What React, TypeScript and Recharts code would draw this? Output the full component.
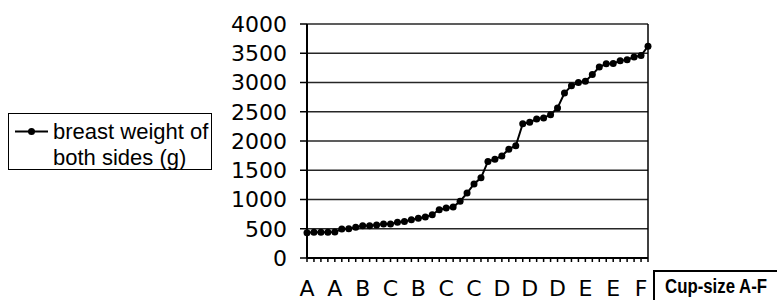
import React from "react";
import {
  LineChart, Line, XAxis, YAxis, CartesianGrid, Legend, ReferenceLine
} from "recharts";

// breast weight of both sides (g), sorted, one value per subject
const weights = [
  430, 440, 440, 440, 445, 495, 500, 525, 550, 550,
  565, 580, 580, 610, 625, 655, 680, 700, 740, 825,
  855, 870, 970, 1110, 1265, 1370, 1650, 1690, 1745, 1860,
  1920, 2295, 2320, 2375, 2395, 2450, 2565, 2820, 2945, 3000,
  3020, 3135, 3265, 3320, 3325, 3370, 3390, 3435, 3460, 3620
];

// cup size shown under every 4th subject
const cupLabels = ["A", "A", "B", "C", "B", "C", "C", "D", "D", "D", "E", "E", "F"];
const labelStep = 4;

const yTicks = [0, 500, 1000, 1500, 2000, 2500, 3000, 3500, 4000];

const data = weights.map((w, i) => ({ idx: i, weight: w }));

const axisFont = "'DejaVu Sans', Verdana, sans-serif";

const CupTick = (props: any) => {
  const { x, y, payload } = props;
  const i = payload.value as number;
  if (i % labelStep !== 0) return <g />;
  return (
    <text x={x} y={y} dy="0.71em" textAnchor="middle" fill="#000"
      fontSize={22} fontFamily={axisFont}>
      {cupLabels[i / labelStep]}
    </text>
  );
};

const LegendBox = () => (
  <div style={{
    width: 204, height: 57, border: "1.5px solid #000", boxSizing: "border-box",
    position: "relative", background: "#fff",
    fontFamily: "'Liberation Sans', Arial, sans-serif", fontSize: 22, color: "#000"
  }}>
    <svg width={40} height={30} style={{ position: "absolute", left: 0, top: 3 }}>
      <line x1={6} y1={14.5} x2={39} y2={14.5} stroke="#000" strokeWidth={2} />
      <circle cx={22.5} cy={14.5} r={3.5} fill="#000" />
    </svg>
    <div style={{ position: "absolute", left: 44, top: 5, lineHeight: "26px", whiteSpace: "nowrap" }}>
      breast weight of<br />both sides (g)
    </div>
  </div>
);

export default function App() {
  return (
    <div style={{ position: "absolute", left: 0, top: 0, width: 777, height: 300, background: "#fff", overflow: "hidden" }}>
      <LineChart width={777} height={300} data={data}
        margin={{ top: 24, right: 129, left: 0, bottom: 2 }}>
        <CartesianGrid vertical={false} stroke="#000" strokeWidth={1.5} strokeOpacity={0.85} />
        <XAxis dataKey="idx" interval={0} tick={<CupTick />} tickSize={4} tickMargin={18}
          height={40} axisLine={{ stroke: "#000", strokeWidth: 2 }}
          tickLine={{ stroke: "#000", strokeWidth: 1.5 }} />
        <YAxis domain={[0, 4000]} ticks={yTicks} width={307} tickSize={7} tickMargin={13}
          interval={0}
          axisLine={{ stroke: "#000", strokeWidth: 2 }}
          tickLine={{ stroke: "#000", strokeWidth: 1.5 }}
          tick={{ fill: "#000", fontSize: 22, fontFamily: axisFont }} />
        <ReferenceLine x={weights.length - 1} stroke="#000" strokeWidth={1.5} />
        <Legend layout="horizontal" verticalAlign="middle" content={<LegendBox />}
          wrapperStyle={{ left: 8, top: 113, width: 204, height: 57 }} />
        <Line type="linear" dataKey="weight" stroke="#000" strokeWidth={2}
          dot={{ r: 3.5, fill: "#000", stroke: "#000", strokeWidth: 0 }}
          name="breast weight of both sides (g)" isAnimationActive={false} />
      </LineChart>
      <div style={{
        position: "absolute", left: 653, top: 270, width: 140, height: 50,
        borderLeft: "2px solid #000", borderTop: "2px solid #000", boxSizing: "border-box"
      }}>
        <div style={{
          position: "absolute", left: 10, top: 1, whiteSpace: "nowrap",
          fontFamily: "'Liberation Sans', Arial, sans-serif", fontWeight: "bold",
          fontSize: 20, color: "#000", lineHeight: "26px",
          transform: "scaleX(0.84)", transformOrigin: "left top"
        }}>
          Cup-size A-F
        </div>
      </div>
    </div>
  );
}
